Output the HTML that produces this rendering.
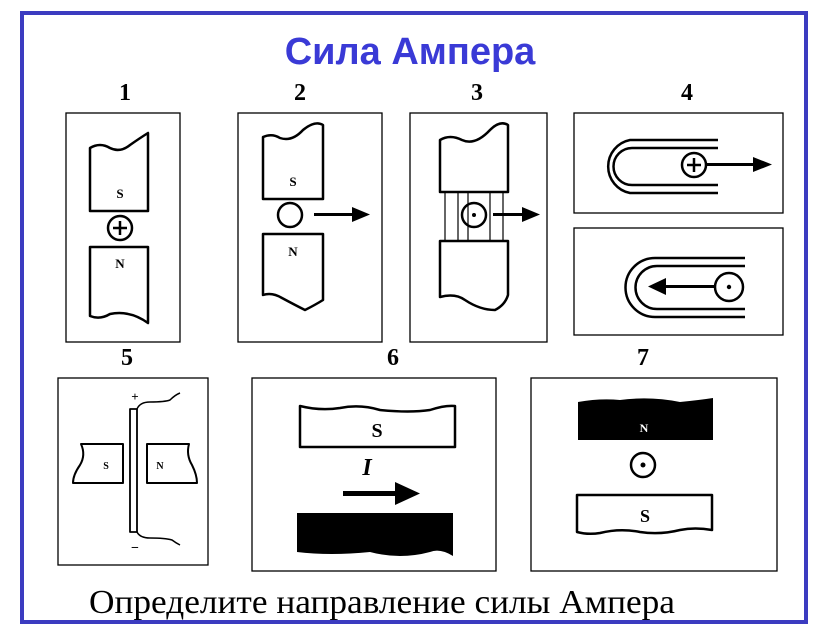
<!DOCTYPE html>
<html><head><meta charset="utf-8"><style>
html,body{margin:0;padding:0;background:#fff;}
svg{display:block}
</style></head><body>
<svg width="821" height="638" viewBox="0 0 821 638" xmlns="http://www.w3.org/2000/svg">
<rect x="0" y="0" width="821" height="638" fill="#fff"/>
<rect x="22" y="13" width="784" height="609" fill="none" stroke="#3b3bc0" stroke-width="4"/>
<text x="410" y="64" text-anchor="middle" font-family="Liberation Sans, sans-serif" font-weight="bold" font-size="38" fill="#3a3ad6">Сила Ампера</text>
<g font-family="Liberation Serif, serif" font-weight="bold" font-size="24" fill="#000" text-anchor="middle">
<text x="125" y="100">1</text><text x="300" y="100">2</text><text x="477" y="100">3</text><text x="687" y="100">4</text>
<text x="127" y="365">5</text><text x="393" y="365">6</text><text x="643" y="365">7</text>
</g>
<g fill="none" stroke="#000" stroke-width="1.3">
<rect x="66" y="113" width="114" height="229"/>
<rect x="238" y="113" width="144" height="229"/>
<rect x="410" y="113" width="137" height="229"/>
<rect x="574" y="113" width="209" height="100"/>
<rect x="574" y="228" width="209" height="107"/>
<rect x="58" y="378" width="150" height="187"/>
<rect x="252" y="378" width="244" height="193"/>
<rect x="531" y="378" width="246" height="193"/>
</g>
<g fill="none" stroke="#000" stroke-width="2.5" stroke-linejoin="round">
<path d="M90 211 V148 Q100 142 110 148 Q120 153 130 145 Q140 138 148 133 V211 Z"/>
<path d="M90 247 V316 Q100 320 110 314 Q130 310 148 323 V247 Z"/>
<circle cx="120" cy="228" r="12"/>
<path d="M113 228 H127 M120 221 V235"/>
<path d="M263 199 V137 Q272 133 280 138 Q292 142 303 130 Q315 120 323 125 V199 Z"/>
<path d="M263 234 V295 Q272 292 282 298 Q295 305 305 310 Q315 305 323 300 V234 Z"/>
<circle cx="290" cy="215" r="12"/>
<path d="M440 192 V140 Q450 134 462 140 Q475 146 490 130 Q500 120 508 125 V192 Z"/>
<path d="M440 241 V297 Q455 293 465 300 Q480 310 495 310 Q505 305 508 295 V241 Z"/>
<circle cx="474" cy="215" r="12"/>
<path d="M718 140 H630 A27 27 0 0 0 630 193 H718"/>
<path d="M718 148 H632 A18 18 0 0 0 632 185 H718"/>
<circle cx="694" cy="165" r="12" fill="#fff"/>
<path d="M687 165 H701 M694 158 V172"/>
<path d="M745 258 H655 A29 29 0 0 0 655 317 H745"/>
<path d="M745 266 H657 A21 21 0 0 0 657 309 H745"/>
<circle cx="729" cy="287" r="14" fill="#fff"/>
<rect x="130" y="409" width="7" height="123" stroke-width="1.8"/>
<path d="M137 409 Q140 402 150 402 Q165 402 170 400 Q175 395 180 393" stroke-width="1.5"/>
<path d="M137 532 Q140 538 150 538 Q165 538 172 540 Q176 543 180 545" stroke-width="1.5"/>
<path d="M123 444 H81 Q86 455 80 465 Q73 475 73 483 H123 Z" stroke-width="2"/>
<path d="M147 444 H189 Q186 455 192 465 Q197 475 197 483 H147 Z" stroke-width="2"/>
<path d="M300 447 V406 Q320 411 340 408 Q360 404 380 410 Q410 413 430 410 Q445 405 455 406 V447 Z"/>
<path d="M577 532 V495 H712 V530 Q695 527 680 530 Q660 535 640 532 Q620 528 600 533 Q588 535 577 532 Z"/>
<circle cx="643" cy="465" r="12"/>
</g>
<g fill="#000">
<circle cx="474" cy="215" r="2"/>
<circle cx="729" cy="287" r="2.2"/>
<circle cx="643" cy="465" r="2.5"/>
<rect x="314" y="213" width="40" height="3"/><path d="M352 207 L370 214.5 L352 222 Z"/>
<rect x="493" y="213" width="30" height="3"/><path d="M522 207 L540 214.5 L522 222 Z"/>
<rect x="707" y="163" width="48" height="3"/><path d="M753 157 L772 164.5 L753 172 Z"/>
<rect x="664" y="285" width="52" height="3"/><path d="M666 278 L648 286.5 L666 295 Z"/>
<rect x="343" y="491" width="55" height="5"/><path d="M395 482 L420 493.5 L395 505 Z"/>
<path d="M297 513 H453 V556 Q440 548 430 552 Q400 560 370 552 Q330 556 297 552 Z"/>
<path d="M578 402 Q600 398 620 400 Q650 396 680 402 Q700 400 713 398 V440 H578 Z"/>
</g>
<g stroke="#000" stroke-width="1.2" fill="none">
<path d="M445 192 V241 M458 192 V241 M468 192 V241 M490 192 V241 M503 192 V241"/>
</g>
<g font-family="Liberation Serif, serif" font-weight="bold" fill="#000" text-anchor="middle">
<text x="120" y="198" font-size="13">S</text>
<text x="120" y="268" font-size="13">N</text>
<text x="293" y="186" font-size="13">S</text>
<text x="293" y="256" font-size="13">N</text>
<text x="135" y="401" font-size="13">+</text>
<text x="135" y="552" font-size="14">−</text>
<text x="106" y="469" font-size="10">S</text>
<text x="160" y="469" font-size="10">N</text>
<text x="377" y="437" font-size="20">S</text>
<text x="367" y="475" font-size="24" font-style="italic">I</text>
<text x="645" y="522" font-size="18">S</text>
<text x="644" y="432" font-size="12" fill="#fff">N</text>
</g>
<text x="382" y="613" text-anchor="middle" font-family="Liberation Serif, serif" font-size="34" fill="#000" textLength="586" lengthAdjust="spacingAndGlyphs">Определите направление силы Ампера</text>
</svg>
</body></html>
